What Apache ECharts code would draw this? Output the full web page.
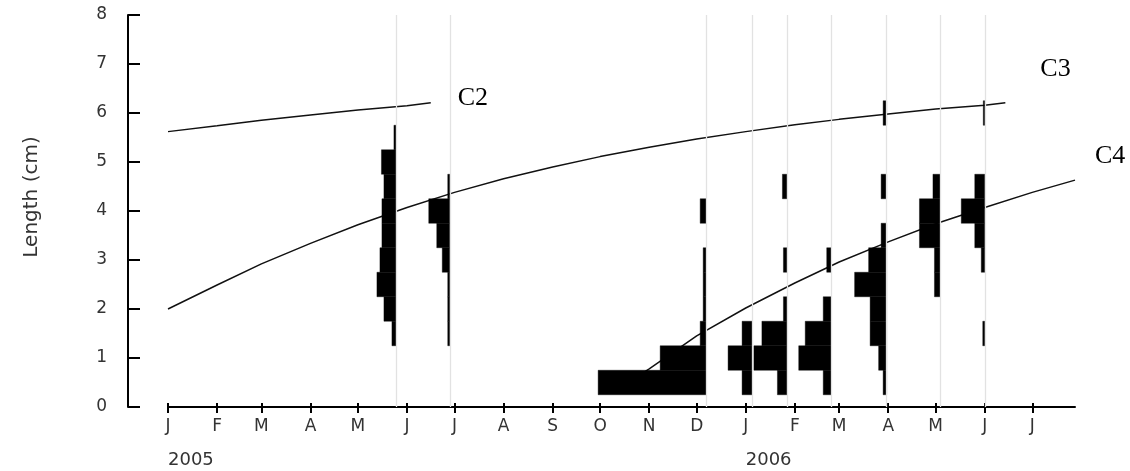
<!DOCTYPE html>
<html>
<head>
<meta charset="utf-8">
<script src="https://cdn.jsdelivr.net/npm/echarts@6/dist/echarts.min.js"></script>
<style>
html,body{margin:0;padding:0;background:#fff;}
#chart{width:1130px;height:471px;}
</style>
</head>
<body>
<div id="chart"></div>
<script>
// ---- data ----
const monthTicks = ['2005-01-01','2005-02-01','2005-03-01','2005-04-01','2005-05-01','2005-06-01','2005-07-01','2005-08-01','2005-09-01','2005-10-01','2005-11-01','2005-12-01','2006-01-01','2006-02-01','2006-03-01','2006-04-01','2006-05-01','2006-06-01','2006-07-01'];
const monthLetters = ['J','F','M','A','M','J','J','A','S','O','N','D','J','F','M','A','M','J','J'];
const yearTicks = ['2005-01-01','2006-01-01'];
const yearLabels = ['2005','2006'];
const axisStart = '2005-01-01';
const axisEnd = '2006-07-28';
const lengthTicks = [0,1,2,3,4,5,6,7,8];

const sampleDates = ['2005-05-25','2005-06-28','2005-12-07','2006-01-05','2006-01-27','2006-02-24','2006-03-31','2006-05-04','2006-06-01'];
// length-class midpoints (cm) and relative frequencies per sample
const binMids = [
  [1.5,2,2.5,3,3.5,4,4.5,5,5.5],
  [1.5,2,2.5,3,3.5,4,4.5],
  [0.5,1,1.5,2,2.5,3,4],
  [0.5,1,1.5],
  [0.5,1,1.5,2,3,4.5],
  [0.5,1,1.5,2,3],
  [0.5,1,1.5,2,2.5,3,3.5,4.5,6],
  [2.5,3,3.5,4,4.5],
  [1.5,3,3.5,4,4.5,6]
];
const binFreqs = [
  [4,12,19,16,14,14,12,14.5,2],
  [2,2,2,7.5,13,21,2],
  [108,46,6,3,3,3,6],
  [10,24,10],
  [9.5,33,25,3.5,3.5,4.5],
  [8,32.5,26,8,4.5],
  [3.5,8,16.5,16.5,32,18,5.5,5.5,3.5],
  [6,6,21,21,7.5],
  [2,3.5,10,23.5,10,1.5]
];

// growth curves (length, cm)
const c2Dates = ['2005-01-01','2005-02-01','2005-03-01','2005-04-01','2005-05-01','2005-06-01','2005-06-16'];
const c2Len   = [5.62,5.74,5.85,5.96,6.06,6.15,6.21];
const c3Dates = ['2005-01-01','2005-02-01','2005-03-01','2005-04-01','2005-05-01','2005-06-01','2005-07-01','2005-08-01','2005-09-01','2005-10-01','2005-11-01','2005-12-01','2006-01-01','2006-02-01','2006-03-01','2006-04-01','2006-05-01','2006-06-01','2006-06-14'];
const c3Len   = [2.00,2.49,2.92,3.34,3.72,4.07,4.38,4.66,4.90,5.11,5.30,5.47,5.62,5.76,5.87,5.98,6.08,6.16,6.21];
const c4Dates = ['2005-10-15','2005-11-01','2005-12-01','2006-01-01','2006-02-01','2006-03-01','2006-04-01','2006-05-01','2006-06-01','2006-07-01','2006-07-28'];
const c4Len   = [0.42,0.78,1.45,2.02,2.53,2.96,3.37,3.74,4.07,4.38,4.63];

// ---- build ----
const DAY = 86400000;
const FREQ_TO_DAYS = 0.632;
const BIN_HALF = 0.25;
const t = s => Date.parse(s);
const monthMs = monthTicks.map(t);
const letterOf = {}; monthMs.forEach((m,i)=>letterOf[m]=monthLetters[i]);
const yearMs = yearTicks.map(t);
const yearOf = {}; yearMs.forEach((m,i)=>yearOf[m]=yearLabels[i]);

const histData = [];
sampleDates.forEach((d,i)=>{
  binMids[i].forEach((m,j)=>histData.push([t(d), m, binFreqs[i][j]]));
});
const toPts = (ds, vs) => ds.map((d,i)=>[t(d), vs[i]]);

const font = 'DejaVu Sans';
const txt = '#333';
const baseX = {type:'value', min:t(axisStart), max:t(axisEnd), splitLine:{show:false}, position:'bottom'};

const chart = echarts.init(document.getElementById('chart'));
const curveStyle = {color:'#111', width:1.5};
const endLbl = (dist, off) => ({show:true, formatter:'{a}', distance:dist, offset:off, color:'#000', fontFamily:'Liberation Serif', fontSize:26});

chart.setOption({
  animation:false,
  backgroundColor:'#fff',
  grid:{left:168, right:55, top:15, bottom:64},
  xAxis:[
    Object.assign({}, baseX, {
      axisLine:{show:true, lineStyle:{color:'#000', width:2}},
      axisTick:{show:true, inside:false, length:6, lineStyle:{color:'#000', width:2}, customValues:monthMs},
      axisLabel:{show:true, customValues:monthMs, formatter:v=>letterOf[v]||'', color:txt, fontFamily:font, fontSize:17, margin:11}
    }),
    Object.assign({}, baseX, {
      axisLine:{show:false},
      axisTick:{show:true, inside:true, length:4, lineStyle:{color:'#000', width:2}, customValues:monthMs},
      axisLabel:{show:false}
    }),
    Object.assign({}, baseX, {
      axisLine:{show:false},
      axisTick:{show:false},
      axisLabel:{show:true, customValues:yearMs, formatter:v=>yearOf[v]||'', align:'left', color:txt, fontFamily:font, fontSize:18, margin:44}
    })
  ],
  yAxis:{
    type:'value', min:0, max:8, interval:1, offset:40,
    splitLine:{show:false},
    axisLine:{show:true, lineStyle:{color:'#000', width:2}},
    axisTick:{show:true, inside:true, length:12, lineStyle:{color:'#000', width:2}, customValues:lengthTicks},
    axisLabel:{color:txt, fontFamily:font, fontSize:17, margin:21},
    name:'Length (cm)', nameLocation:'middle', nameRotate:90, nameGap:86,
    nameTextStyle:{color:txt, fontFamily:font, fontSize:20, padding:[0,0,0,28]}
  },
  series:[
    {
      type:'line', data:[], z:1, silent:true,
      markLine:{silent:true, symbol:'none', label:{show:false},
        lineStyle:{color:'#e2e2e2', width:1.3, type:'solid'},
        data:sampleDates.map(d=>({xAxis:t(d)}))}
    },
    {name:'C2', type:'line', data:toPts(c2Dates,c2Len), showSymbol:false, lineStyle:curveStyle, z:2, endLabel:endLbl(27,[0,-5])},
    {name:'C3', type:'line', data:toPts(c3Dates,c3Len), showSymbol:false, lineStyle:curveStyle, z:2, endLabel:endLbl(35,[0,-34])},
    {name:'C4', type:'line', data:toPts(c4Dates,c4Len), showSymbol:false, lineStyle:curveStyle, z:2, endLabel:endLbl(20,[0,-24])},
    {
      type:'custom', z:3, data:histData, encode:{x:0, y:1},
      renderItem:(params, api)=>{
        const d = api.value(0), m = api.value(1), f = api.value(2);
        const p1 = api.coord([d - f*FREQ_TO_DAYS*DAY, m + BIN_HALF]);
        const p2 = api.coord([d, m - BIN_HALF]);
        return {type:'rect', shape:{x:p1[0], y:p1[1], width:p2[0]-p1[0], height:p2[1]-p1[1]},
          style:{fill:'#000', stroke:'#000', lineWidth:0.4}};
      }
    }
  ]
});
</script>
</body>
</html>
